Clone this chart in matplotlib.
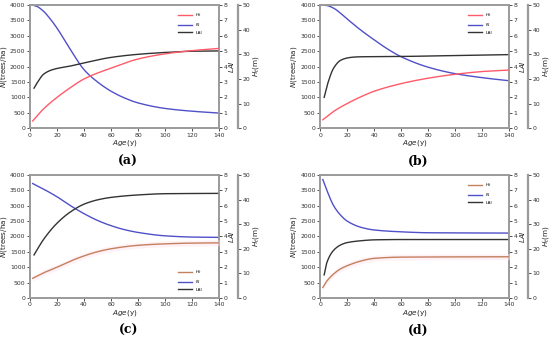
import matplotlib
matplotlib.use("Agg")
import matplotlib.pyplot as plt
import numpy as np

# ---- data ----
# panel (a)
a_h_age = [2, 10, 20, 30, 40, 60, 80, 100, 120, 140]
a_h = [2.9, 7.8, 12.5, 16.5, 20.0, 24.4, 28.1, 30.2, 31.5, 32.4]
a_n_age = [2, 5, 10, 15, 20, 30, 40, 50, 60, 70, 80, 100, 120, 140]
a_n = [4000, 3960, 3800, 3550, 3250, 2550, 1900, 1500, 1200, 980, 820, 640, 550, 490]
a_lai_age = [3, 5, 10, 15, 20, 30, 40, 60, 80, 100, 120, 140]
a_lai = [2.6, 2.9, 3.5, 3.75, 3.88, 4.04, 4.24, 4.6, 4.8, 4.92, 5.0, 5.02]
# panel (b)
b_h_age = [2, 10, 20, 30, 40, 60, 80, 100, 120, 140]
b_h = [3.4, 6.8, 10.0, 12.7, 15.0, 18.1, 20.3, 21.9, 23.0, 23.6]
b_n_age = [2, 5, 10, 15, 20, 30, 40, 50, 60, 80, 100, 120, 140]
b_n = [4000, 3985, 3900, 3740, 3550, 3190, 2870, 2570, 2320, 1980, 1770, 1640, 1540]
b_lai_age = [3, 6, 10, 15, 20, 25, 30, 60, 100, 140]
b_lai = [2.0, 3.0, 3.9, 4.4, 4.56, 4.62, 4.64, 4.66, 4.72, 4.78]
# panel (c)
c_h_age = [2, 10, 20, 30, 40, 50, 60, 80, 100, 120, 140]
c_h = [8.0, 10.2, 12.5, 15.0, 17.1, 18.8, 20.0, 21.4, 22.0, 22.3, 22.4]
c_n_age = [2, 10, 20, 30, 40, 50, 60, 70, 80, 100, 120, 140]
c_n = [3720, 3540, 3290, 3000, 2740, 2520, 2350, 2220, 2130, 2020, 1980, 1970]
c_lai_age = [3, 10, 20, 30, 40, 50, 60, 80, 100, 140]
c_lai = [2.8, 3.8, 4.86, 5.6, 6.1, 6.38, 6.54, 6.7, 6.78, 6.8]
# panel (d)
d_h_age = [2, 5, 10, 15, 20, 30, 40, 60, 140]
d_h = [4.25, 6.9, 9.75, 11.8, 13.1, 15.0, 16.1, 16.6, 16.75]
d_n_age = [2, 5, 10, 15, 20, 30, 40, 60, 80, 140]
d_n = [3850, 3500, 3000, 2700, 2500, 2300, 2210, 2150, 2120, 2110]
d_lai_age = [3, 5, 10, 15, 20, 30, 40, 60, 140]
d_lai = [1.5, 2.3, 3.1, 3.44, 3.6, 3.72, 3.78, 3.8, 3.8]

panel_letters = ["(a)", "(b)", "(c)", "(d)"]

def smooth(x, y):
    xs = np.linspace(min(x), max(x), 300)
    x = np.asarray(x, float); y = np.asarray(y, float)
    h = np.diff(x); d = np.diff(y) / h
    m = np.zeros_like(y)
    for k in range(1, len(x) - 1):
        if d[k-1] * d[k] > 0:
            w1 = 2*h[k] + h[k-1]; w2 = h[k] + 2*h[k-1]
            m[k] = (w1 + w2) / (w1/d[k-1] + w2/d[k])
    m[0] = d[0]; m[-1] = d[-1]
    idx = np.clip(np.searchsorted(x, xs) - 1, 0, len(x) - 2)
    t = (xs - x[idx]) / h[idx]
    h00 = 2*t**3 - 3*t**2 + 1; h10 = t**3 - 2*t**2 + t
    h01 = -2*t**3 + 3*t**2; h11 = t**3 - t**2
    ys = h00*y[idx] + h10*h[idx]*m[idx] + h01*y[idx+1] + h11*h[idx]*m[idx+1]
    return xs, ys

plt.rcParams['font.family'] = ['DejaVu Sans']
fig = plt.figure(figsize=(5.5, 3.39), dpi=100)

spine_col = '#9a9a9a'
tick_col = '#333333'
fs = 4.4
lfs = 5.2

panels = [
    (a_h_age, a_h, a_n_age, a_n, a_lai_age, a_lai, '#ff5a6a', 'upper right', [0.0545, 0.622, 0.344, 0.363], 0.233, 0.505),
    (b_h_age, b_h, b_n_age, b_n, b_lai_age, b_lai, '#ff5a6a', 'upper right', [0.582, 0.622, 0.344, 0.363], 0.76, 0.505),
    (c_h_age, c_h, c_n_age, c_n, c_lai_age, c_lai, '#c4805f', 'lower right', [0.0545, 0.121, 0.344, 0.363], 0.233, 0.005),
    (d_h_age, d_h, d_n_age, d_n, d_lai_age, d_lai, '#c4805f', 'upper right', [0.582, 0.121, 0.344, 0.363], 0.76, 0.005),
]

for i, (hx, hy, nx, ny, lx, ly, hcol, legloc, rect, lxp, lyp) in enumerate(panels):
    ax = fig.add_axes(rect)
    ax2 = ax.twinx()
    ax3 = ax.twinx()
    ax3.spines['right'].set_position(('outward', 13.5))

    xs, ys = smooth(hx, hy)
    if i >= 2:
        ax3.fill_between(xs, ys - 1.2, ys + 1.2, color='#ffe6ee', alpha=0.5, lw=0)
    l1, = ax3.plot(xs, ys, color=hcol, lw=1.0, label=r'$H_t$')
    xs, ys = smooth(nx, ny)
    l2, = ax.plot(xs, ys, color='#5050c8', lw=1.0, label=r'$N$')
    xs, ys = smooth(lx, ly)
    l3, = ax2.plot(xs, ys, color='#333333', lw=1.0, label='LAI')

    ax.set_xlim(0, 140)
    ax.set_ylim(0, 4000)
    ax2.set_ylim(0, 8)
    ax3.set_ylim(0, 50)
    ax.set_xticks(range(0, 141, 20))
    ax.set_yticks(range(0, 4001, 500))
    ax2.set_yticks(range(0, 9))
    ax3.set_yticks(range(0, 51, 10))

    for a in (ax, ax2, ax3):
        for s in a.spines.values():
            s.set_color(spine_col)
            s.set_linewidth(1.2)
        a.tick_params(labelsize=fs, colors=tick_col, length=2, width=0.6, pad=1.2)
    for s in ('left', 'top', 'bottom'):
        ax3.spines[s].set_visible(False)
    ax3.spines['right'].set_linewidth(1.6)

    ax.set_xlabel(r'$Age$(y)', fontsize=lfs, labelpad=0.5, color='#222222')
    ax.set_ylabel(r'$N$(trees/ha)', fontsize=lfs, labelpad=1, color='#222222')
    ax2.set_ylabel(r'$LAI$', fontsize=lfs, labelpad=0, color='#222222')
    ax3.set_ylabel(r'$H_t$(m)', fontsize=lfs, labelpad=0.5, color='#222222')

    if legloc == 'upper right':
        ax.legend(handles=[l1, l2, l3], loc='upper right', bbox_to_anchor=(0.93, 0.98),
                  fontsize=3.2, frameon=False, handlelength=3, labelspacing=0.5)
    else:
        ax.legend(handles=[l1, l2, l3], loc='lower right', bbox_to_anchor=(0.93, 0.02),
                  fontsize=3.2, frameon=False, handlelength=3, labelspacing=0.5)

    fig.text(lxp, lyp, panel_letters[i], ha='center', va='bottom', fontsize=9,
             family='DejaVu Serif', fontweight='bold')

fig.savefig('out.png', dpi=100)
